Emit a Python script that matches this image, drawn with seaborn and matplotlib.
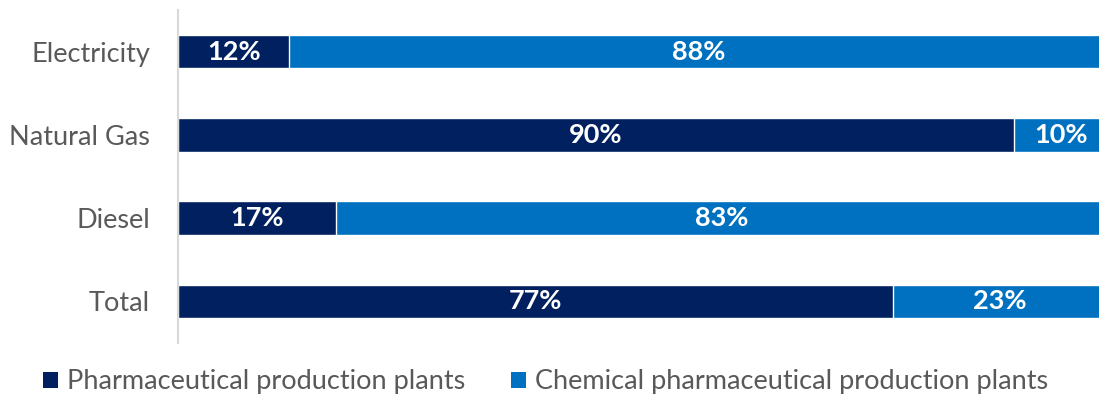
import matplotlib
matplotlib.use("Agg")
import matplotlib.pyplot as plt
import seaborn as sns
import pandas as pd
from matplotlib.patches import Patch

categories = ["Electricity", "Natural Gas", "Diesel", "Total"]
pharma = [12, 90, 17, 77]
chemical = [88, 10, 83, 23]
series_names = ["Pharmaceutical production plants", "Chemical pharmaceutical production plants"]

navy = "#002060"
blue = "#0070C0"

sns.set_theme(style="white")
plt.rcParams["font.family"] = ["Lato", "DejaVu Sans"]

df = pd.DataFrame({"category": categories, "pharma": pharma, "chemical": chemical})
df["stacked"] = df["pharma"] + df["chemical"]

fig = plt.figure(figsize=(10.99, 3.96), dpi=100)
ax = fig.add_axes([178 / 1099, 1 - 343 / 396, (1107 - 178) / 1099, 333 / 396])

sns.barplot(data=df, y="category", x="stacked", color=blue, orient="h",
            width=0.4, ax=ax, saturation=1)
sns.barplot(data=df, y="category", x="pharma", color=navy, orient="h",
            width=0.4, ax=ax, saturation=1)

for i, (p, c) in enumerate(zip(pharma, chemical)):
    ax.text(p / 2, i, f"{p}%", ha="center", va="center", color="white",
            fontsize=19.5, fontweight="bold")
    ax.text(p + c / 2, i, f"{c}%", ha="center", va="center", color="white",
            fontsize=19.5, fontweight="bold")

ax.set_xlim(0, 100)
ax.set_ylim(3.5, -0.5)
ax.set_xlabel("")
ax.set_ylabel("")
ax.set_xticks([])
ax.tick_params(axis="y", length=0, pad=20, labelsize=19.5, labelcolor="#595959")
for side in ["top", "right", "bottom"]:
    ax.spines[side].set_visible(False)
ax.spines["left"].set_color("#d9d9d9")
ax.spines["left"].set_linewidth(1.5)

handles = [Patch(facecolor=navy, edgecolor="none"), Patch(facecolor=blue, edgecolor="none")]
fig.legend(handles, series_names, loc="center left", bbox_to_anchor=(43 / 1099, 1 - 382 / 396),
           ncol=2, frameon=False, fontsize=19.5, labelcolor="#595959",
           borderpad=0, borderaxespad=0,
           handlelength=0.55, handleheight=0.55, handletextpad=0.33, columnspacing=1.7)

fig.savefig("out.png", dpi=100)
